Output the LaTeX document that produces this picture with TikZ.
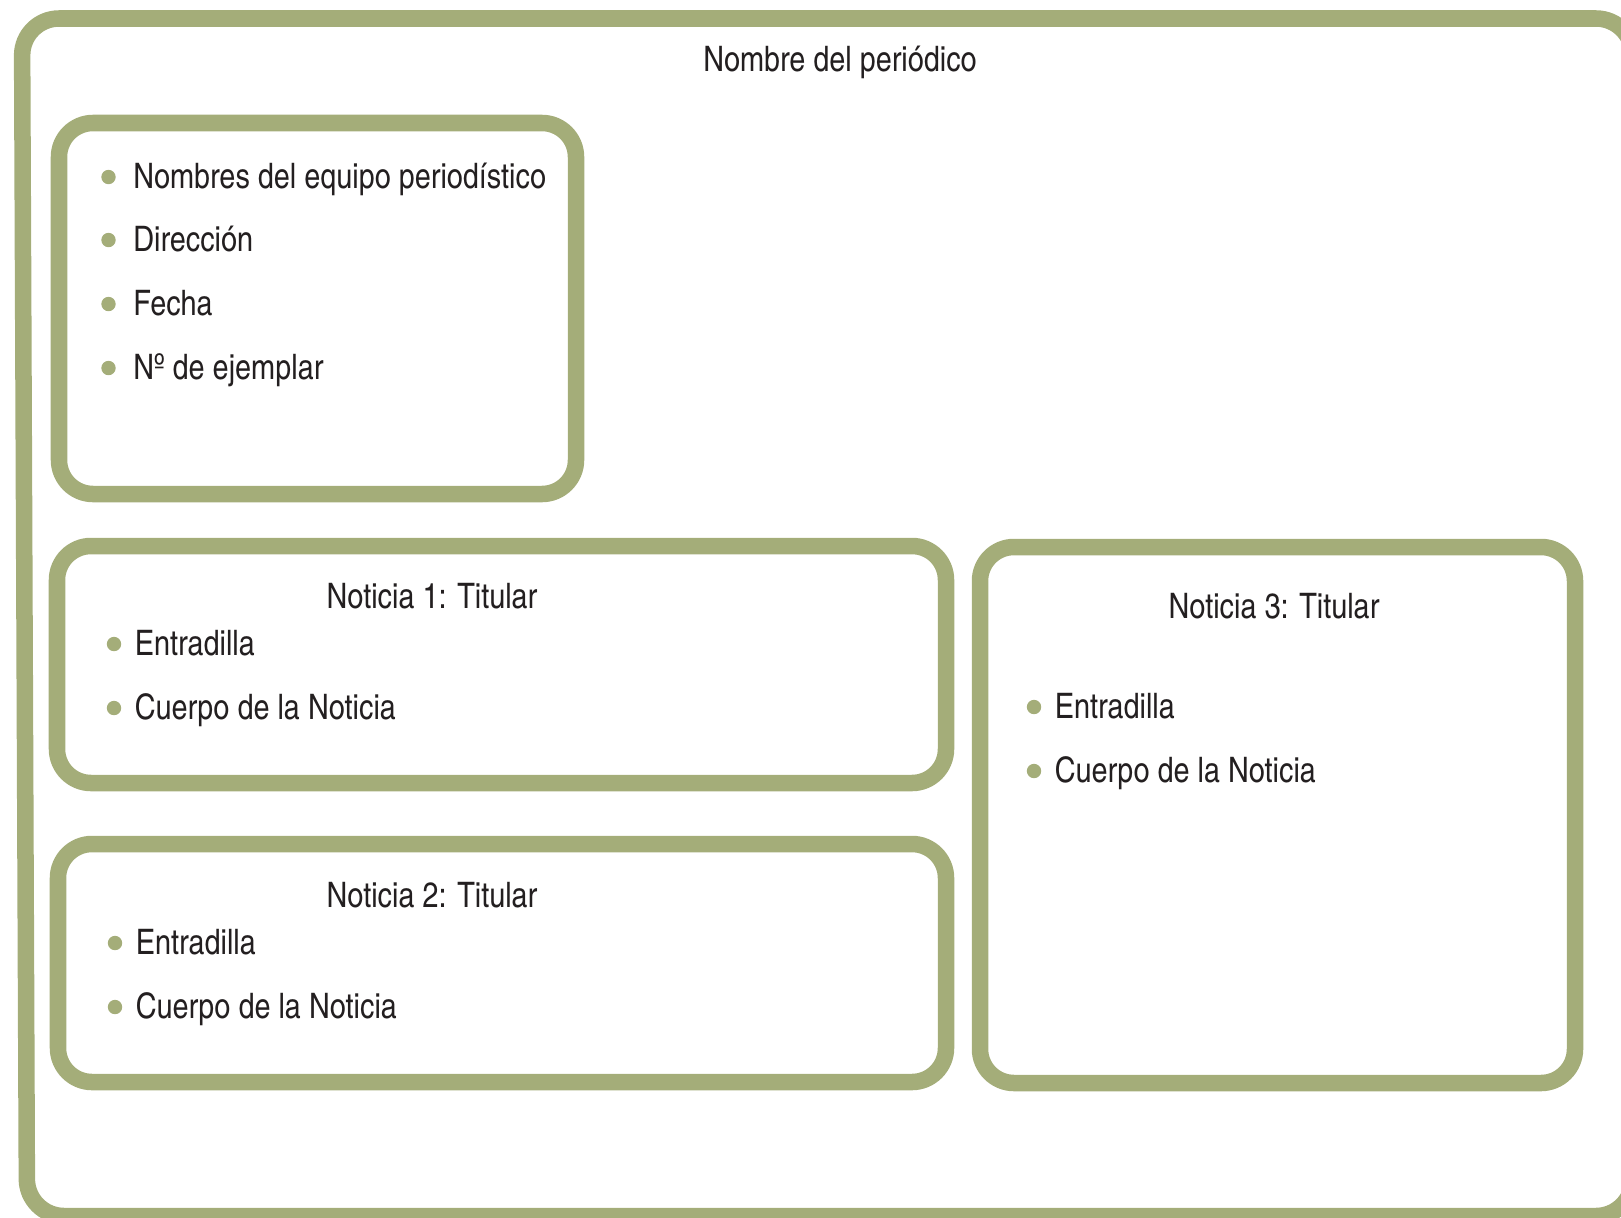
\documentclass[tikz,border=0pt]{standalone}
\usepackage{fontspec}
\setmainfont{TeX Gyre Heros Cn}
\begin{document}
\begin{tikzpicture}[x=0.02cm, y=-0.02cm,
    framebox/.style={draw=framegreen, line width=9.4pt, rounded corners=0.68cm},
    bullettext/.style={anchor=mid west, inner sep=0pt, yshift=-4pt, font=\fontsize{20}{24}\selectfont},
    titletext/.style={inner sep=0pt, yshift=-1.5pt, font=\fontsize{20}{24}\selectfont}]
    % Define the colors
    \definecolor{framegreen}{RGB}{164, 173, 121}
    \definecolor{textcolor}{RGB}{35, 31, 32}

    % Page size and clipping
    \useasboundingbox (0,0) rectangle (1621,1217);
    \clip (0,0) rectangle (1621,1217);

    % Draw the outer frame of the newspaper
    \draw[framebox, rounded corners=0.74cm] (22,18.5) -- (1633,18.5) -- (1633,1216) -- (27,1216) -- cycle;
    \node[titletext, text=textcolor] (periodico) at (840,60) {Nombre del periódico};

    % Draw the header box
    \draw[framebox] (59,123) rectangle (576,494);
    \foreach \y/\txt [count=\i] in {177/Nombres del equipo periodístico, 240/Dirección, 304/Fecha, 368/Nº de ejemplar} {
        \fill[framegreen] (108.5,\y) circle (7.2);
        \node[bullettext, text=textcolor] (cab\i) at (133,\y) {\txt};
    }

    % Draw the box of Noticia 1
    \draw[framebox] (57,546) rectangle (946,783);
    \node[titletext, text=textcolor] (tit1) at (432,594) {Noticia 1: Titular};
    \fill[framegreen] (114,644) circle (7.2);
    \node[bullettext, text=textcolor] (ent1) at (134.5,644) {Entradilla};
    \fill[framegreen] (114,708) circle (7.2);
    \node[bullettext, text=textcolor] (cue1) at (134.5,708) {Cuerpo de la Noticia};

    % Draw the box of Noticia 2
    \draw[framebox] (58,844) rectangle (946,1082);
    \node[titletext, text=textcolor] (tit2) at (432,892) {Noticia 2: Titular};
    \fill[framegreen] (115,943) circle (7.2);
    \node[bullettext, text=textcolor] (ent2) at (135.5,943) {Entradilla};
    \fill[framegreen] (115,1007) circle (7.2);
    \node[bullettext, text=textcolor] (cue2) at (135.5,1007) {Cuerpo de la Noticia};

    % Draw the box of Noticia 3
    \draw[framebox] (980,547) rectangle (1575,1083);
    \node[titletext, text=textcolor] (tit3) at (1274,604) {Noticia 3: Titular};
    \fill[framegreen] (1034,707) circle (7.2);
    \node[bullettext, text=textcolor] (ent3) at (1054.5,707) {Entradilla};
    \fill[framegreen] (1034,771) circle (7.2);
    \node[bullettext, text=textcolor] (cue3) at (1054.5,771) {Cuerpo de la Noticia};

\end{tikzpicture}
\end{document}
